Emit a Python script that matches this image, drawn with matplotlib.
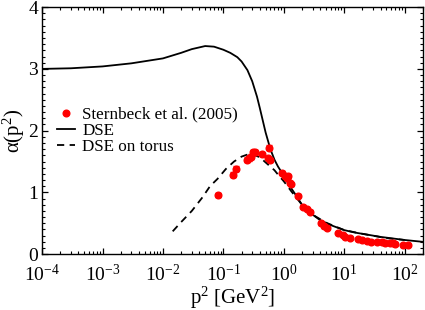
import numpy as np
import matplotlib
matplotlib.use('Agg')
import matplotlib.pyplot as plt
from matplotlib.lines import Line2D
from matplotlib.ticker import LogLocator, MultipleLocator, NullFormatter

plt.rcParams['font.family'] = ['Liberation Serif', 'DejaVu Serif']
plt.rcParams['mathtext.fontset'] = 'stix'
plt.rcParams['mathtext.default'] = 'regular'

# DSE curve (infinite volume)
dse_p2 = [1e-4, 3e-4, 1e-3, 3e-3, 1e-2, 2e-2, 3e-2, 5e-2, 7e-2, 0.1, 0.13, 0.17, 0.2,
          0.25, 0.3, 0.36, 0.4, 0.5, 0.6, 0.7, 0.8, 1.0, 1.3, 1.6, 2.0, 3.0, 4.0, 6.0,
          10.0, 15.0, 20.0, 40.0, 100.0, 200.0]
dse_alpha = [3.00, 3.01, 3.04, 3.09, 3.17, 3.26, 3.32, 3.37, 3.36, 3.31, 3.26, 3.19, 3.12,
             2.98, 2.80, 2.55, 2.37, 1.97, 1.70, 1.53, 1.42, 1.27, 1.08, 0.95, 0.80, 0.64,
             0.55, 0.47, 0.39, 0.35, 0.33, 0.28, 0.23, 0.20]

# DSE on torus
torus_p2 = [0.0145, 0.02, 0.03, 0.045, 0.06, 0.08, 0.11, 0.15, 0.2, 0.28, 0.4, 0.55,
            0.7, 0.8, 1.0, 1.35, 2.0, 3.0, 5.0, 10.0, 20.0, 50.0, 100.0]
torus_alpha = [0.37, 0.52, 0.70, 0.92, 1.10, 1.22, 1.38, 1.50, 1.58, 1.63, 1.57, 1.45,
               1.36, 1.29, 1.18, 1.01, 0.80, 0.64, 0.51, 0.39, 0.33, 0.26, 0.23]

# lattice data, Sternbeck et al. (2005)
lat_p2 = [0.081, 0.145, 0.162, 0.245, 0.27, 0.29, 0.31, 0.34, 0.43, 0.55, 0.59, 0.575,
          0.93, 1.04, 1.12, 1.18, 1.26, 1.32, 1.74, 2.1, 2.4, 2.7, 4.2, 4.7, 5.1,
          8.0, 9.5, 10.2, 12.3, 17.0, 19.5, 23.5, 28.0, 35.0, 42.0, 47.0, 57.0, 65.0,
          69.0, 95.0, 115.0]
lat_alpha = [0.96, 1.285, 1.38, 1.53, 1.55, 1.58, 1.65, 1.65, 1.62, 1.55, 1.52, 1.72,
             1.31, 1.26, 1.24, 1.26, 1.16, 1.13, 0.95, 0.77, 0.73, 0.69, 0.50, 0.45, 0.42,
             0.34, 0.31, 0.285, 0.26, 0.25, 0.23, 0.22, 0.205, 0.205, 0.195, 0.18, 0.18,
             0.18, 0.16, 0.15, 0.15]
lat_err = [0.03, 0.04, 0.04, 0.04, 0.04, 0.04, 0.04, 0.04, 0.03, 0.03, 0.03, 0.04,
           0.03, 0.03, 0.03, 0.03, 0.03, 0.03, 0.02, 0.02, 0.02, 0.02, 0.02, 0.02, 0.02,
           0.02, 0.02, 0.02, 0.02, 0.01, 0.01, 0.01, 0.01, 0.01, 0.01, 0.01, 0.01, 0.01,
           0.01, 0.01, 0.01]

fig = plt.figure(figsize=(4.25, 3.10), dpi=100)
ax = fig.add_axes([0.099, 0.18, 0.896, 0.797])

ax.errorbar(lat_p2, lat_alpha, yerr=lat_err, fmt='o', color='red', ms=4.8,
            elinewidth=1, capsize=2, zorder=3)
ax.plot(dse_p2, dse_alpha, '-', color='black', lw=1.3, zorder=2)
ax.plot(torus_p2, torus_alpha, '--', color='black', lw=1.3, dashes=(4, 3), zorder=2)

ax.set_xscale('log')
ax.set_xlim(1e-4, 200)
ax.set_ylim(0, 4)

ax.xaxis.set_minor_locator(LogLocator(base=10, subs=np.arange(2, 10), numticks=20))
ax.xaxis.set_minor_formatter(NullFormatter())
ax.set_xticks([1e-4, 1e-3, 1e-2, 1e-1, 1, 10, 100])
ax.set_xticklabels(['$10^{-4}$', '$10^{-3}$', '$10^{-2}$', '$10^{-1}$',
                    '$10^{0}$', '$10^{1}$', '$10^{2}$'])
ax.yaxis.set_major_locator(MultipleLocator(1))
ax.yaxis.set_minor_locator(MultipleLocator(0.1))

ax.tick_params(which='both', direction='in', top=True, right=True, labelsize=14)
ax.tick_params(which='major', length=4.5, width=0.9)
ax.tick_params(which='minor', length=2.3, width=0.8)
ax.tick_params(axis='x', which='major', pad=7)
ax.tick_params(axis='y', which='major', pad=3)
for s in ax.spines.values():
    s.set_linewidth(1.0)

ax.set_xlabel('p$^2$ [GeV$^2$]', fontsize=15, labelpad=0)
ax.set_ylabel('α(p$^2$)', fontsize=15, labelpad=1)

handles = [Line2D([], [], marker='o', ls='none', color='red', ms=4.8),
           Line2D([], [], ls='-', color='black', lw=1.3),
           Line2D([], [], ls='--', color='black', lw=1.3, dashes=(4, 3))]
labels = ['Sternbeck et al. (2005)', 'DSE', 'DSE on torus']
ax.legend(handles, labels, loc='upper left', bbox_to_anchor=(0.0, 0.66), frameon=False,
          fontsize=12.3, handlelength=1.0, handletextpad=0.45, labelspacing=0.0)

fig.savefig('out.png', dpi=100)
